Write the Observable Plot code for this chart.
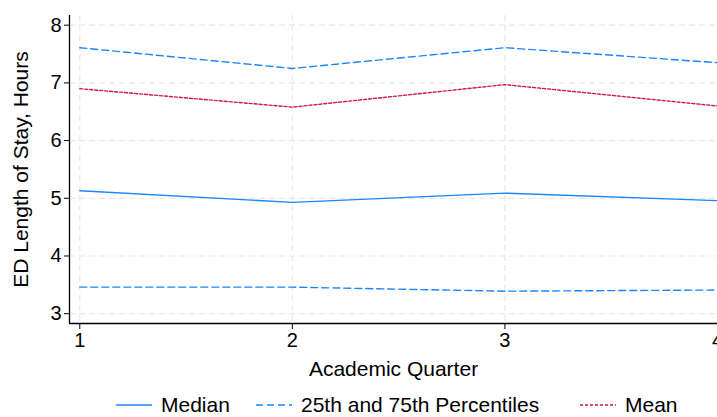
<!DOCTYPE html>
<html>
<head>
<meta charset="utf-8">
<script src="https://cdn.jsdelivr.net/npm/d3@7"></script>
<script src="https://cdn.jsdelivr.net/npm/@observablehq/plot@0.6"></script>
<style>
  html, body { margin: 0; padding: 0; background: #fff; overflow: hidden; width: 717px; height: 417px; }
  #chart { position: relative; width: 717px; height: 417px; font-family: "Liberation Sans", Arial, sans-serif; }
  #legend { position: absolute; left: 0; top: 393px; width: 717px; height: 24px; font-size: 21px; line-height: 24px; color: #000; }
  .item { position: absolute; top: 0; display: flex; align-items: center; height: 24px; }
  .item svg { margin-right: 9px; }
</style>
</head>
<body>
<div id="chart"></div>
<script>
// ---- data ----
const quarters = [1, 2, 3, 4];
const median = [5.13, 4.93, 5.09, 4.96];
const p25 = [3.46, 3.46, 3.39, 3.41];
const p75 = [7.61, 7.25, 7.61, 7.35];
const mean = [6.90, 6.58, 6.97, 6.60];
const xTicks = [1, 2, 3, 4];
const yTicks = [3, 4, 5, 6, 7, 8];
const xDomain = [0.9516, 4];
const yDomain = [2.83, 8.168];
const legendLabels = ["Median", "25th and 75th Percentiles", "Mean"];

const blue = "#1a85ff";
const red = "#d41159";

const rows = (vals) => quarters.map((q, i) => ({q, v: vals[i]}));

const gridStyle = {stroke: "#e8e8e8", strokeOpacity: 1, strokeWidth: 1.2, strokeDasharray: "6,4"};

const plot = Plot.plot({
  width: 717,
  height: 393,
  marginLeft: 69,
  marginRight: 0,
  marginTop: 15,
  marginBottom: 70,
  style: {fontFamily: "'Liberation Sans', Arial, sans-serif", fontSize: "20px", color: "#000", background: "#fff", overflow: "visible"},
  x: {domain: xDomain, axis: null},
  y: {domain: yDomain, axis: null},
  marks: [
    Plot.gridX(xTicks, gridStyle),
    Plot.gridY(yTicks, gridStyle),
    Plot.axisX(xTicks, {tickSize: 6, tickPadding: 3, tickFormat: d3.format("d"), fontSize: 20, label: null}),
    Plot.axisX({ticks: [], label: "Academic Quarter", labelAnchor: "center", labelOffset: 52, labelArrow: "none", fontSize: 21}),
    Plot.axisY(yTicks, {tickSize: 5, tickPadding: 3, tickFormat: d3.format("d"), fontSize: 20, label: null}),
    Plot.axisY({ticks: [], label: "ED Length of Stay, Hours", labelAnchor: "center", labelOffset: 56, labelArrow: "none", fontSize: 21}),
    Plot.ruleX([xDomain[0]], {stroke: "#000", strokeWidth: 1.3}),
    Plot.ruleY([yDomain[0]], {stroke: "#000", strokeWidth: 1.3}),
    Plot.line(rows(p25), {x: "q", y: "v", stroke: blue, strokeWidth: 1.4, strokeDasharray: "7,4"}),
    Plot.line(rows(p75), {x: "q", y: "v", stroke: blue, strokeWidth: 1.4, strokeDasharray: "7,4"}),
    Plot.line(rows(mean), {x: "q", y: "v", stroke: red, strokeWidth: 1.4, strokeDasharray: "3,2"}),
    Plot.line(rows(median), {x: "q", y: "v", stroke: blue, strokeWidth: 1.4})
  ]
});
document.getElementById("chart").appendChild(plot);

// ---- legend (HTML, below the SVG) ----
const legend = document.createElement("div");
legend.id = "legend";
const items = [
  {label: legendLabels[0], color: blue, dash: null, left: 116},
  {label: legendLabels[1], color: blue, dash: "7,4", left: 256},
  {label: legendLabels[2], color: red, dash: "3,2", left: 580}
];
for (const it of items) {
  const d = document.createElement("div");
  d.className = "item";
  d.style.left = it.left + "px";
  d.innerHTML = `<svg width="36" height="4"><line x1="0" x2="36" y1="2" y2="2" stroke="${it.color}" stroke-width="1.4" ${it.dash ? `stroke-dasharray="${it.dash}"` : ""}/></svg><span>${it.label}</span>`;
  legend.appendChild(d);
}
document.getElementById("chart").appendChild(legend);
</script>
</body>
</html>
